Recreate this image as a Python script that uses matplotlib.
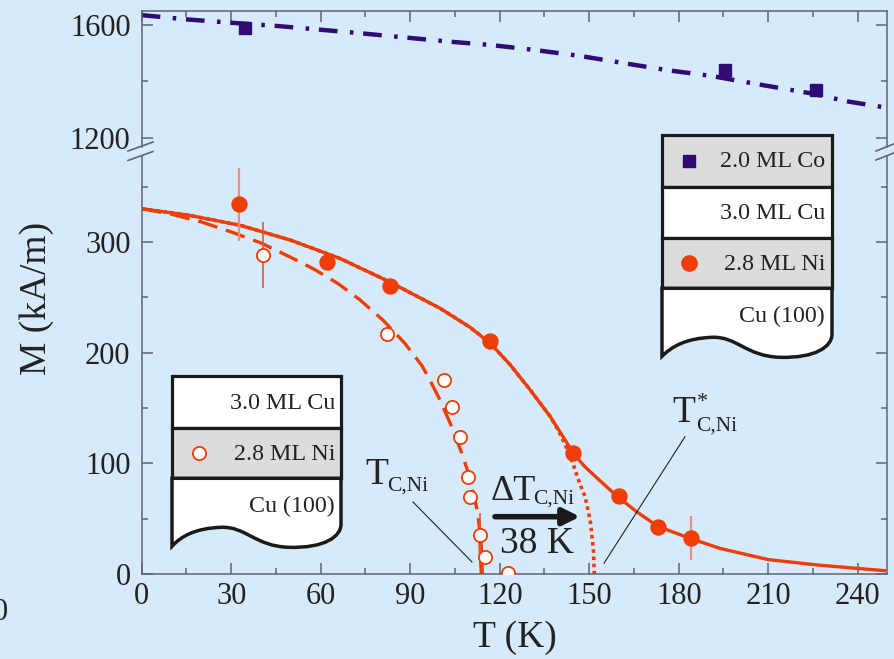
import matplotlib
matplotlib.use('Agg')
import matplotlib.pyplot as plt
from matplotlib.path import Path
from matplotlib.patches import PathPatch, Rectangle
from matplotlib.lines import Line2D
from matplotlib.ticker import MultipleLocator, FixedLocator

plt.rcParams['font.family'] = ['Liberation Serif', 'DejaVu Serif']

# ---------------- data ----------------
# 2.0 ML Co (upper panel)
T_co = [34.6, 195.6, 226.0]
M_co = [1589, 1440, 1369]
T_co_fit = [0, 15, 30, 46, 70, 103, 117, 132, 147, 162, 176, 191, 208, 224, 237, 250]
M_co_fit = [1635, 1620, 1608, 1596, 1574, 1541, 1529, 1511, 1490, 1464, 1440, 1419, 1387, 1358, 1328, 1306]

# 2.8 ML Ni in trilayer (filled circles)
T_tri = [32.6, 62.2, 83.2, 116.8, 144.7, 160.0, 172.9, 184.0]
M_tri = [334, 282, 260, 210.5, 109, 70.7, 42.7, 32.2]
E_tri = [33, 0, 0, 0, 0, 0, 0, 20]
T_tri_fit = [0, 16, 33, 50, 66.5, 83, 100, 110, 117, 123.5, 130, 137, 141, 144.7, 148.5, 152.5,
             159, 166, 173, 184, 194, 210, 227, 249]
M_tri_fit = [330, 324, 315, 301.5, 285, 264, 240, 223, 208, 189, 167, 142, 125, 109, 97, 87,
             71, 56, 43, 32, 23, 13, 8, 3]

# mean-field extrapolation (dotted)
T_mf = [0, 16, 33, 50, 66.5, 83, 100, 110, 117, 123.5, 130, 137, 140, 142, 144.7, 147, 148.6,
        150.3, 151.4, 151.7]
M_mf = [330, 324, 315, 301.5, 285, 264, 240, 223, 208, 189, 167, 142, 128, 116.5, 98.5, 80.4, 70,
        49, 22, 0]

# single 2.8 ML Ni film (open circles)
T_sf = [40.8, 82.1, 101.3, 103.9, 106.7, 109.5, 110.0, 113.4, 115.1, 122.9]
M_sf = [288, 216.5, 175, 150.6, 124, 87.3, 70, 35.2, 15, 0.6]
E_sf = [30, 0, 0, 0, 0, 0, 0, 20, 0, 0]
T_sf_fit = [0, 10, 20, 30, 40, 50, 58, 66, 73, 81, 88, 94, 97.2, 100, 103.9, 107.3, 109.4,
            111.2, 112.5, 113.4, 114]
M_sf_fit = [330, 325, 318, 309, 299, 286, 275, 262, 248, 229, 209, 188, 172, 157, 133, 109, 92,
            72, 57, 37, 0]

x_ticks = [0, 30, 60, 90, 120, 150, 180, 210, 240]
y_ticks_low = [0, 100, 200, 300]
y_ticks_up = [1200, 1600]

# ---------------- style ----------------
BG = '#d6eafc'
ORANGE = '#ee3d06'
ERR1 = '#f0907a'
ERR2 = '#e8582a'
PURPLE = '#2f0b73'
SPINE = '#5d6670'
INK = '#222222'
GRAY = '#dcdcdc'

W, H = 895, 659
fig = plt.figure(figsize=(W / 100, H / 100), dpi=100, facecolor=BG)


def fx(x):
    return x / W


def fy(y):
    return 1 - y / H


L, R, TOP, B, BRK_U, BRK_L = 141.7, 886.7, 11, 574, 146.5, 156
ax_u = fig.add_axes([fx(L), fy(BRK_U), (R - L) / W, (BRK_U - TOP) / H])
ax_l = fig.add_axes([fx(L), fy(B), (R - L) / W, (B - BRK_L) / H])

for ax in (ax_u, ax_l):
    ax.set_facecolor('none')
    ax.set_xlim(0, 249.7)
    for s in ax.spines.values():
        s.set_color(SPINE)
        s.set_linewidth(1.1)
    ax.tick_params(which='both', direction='in', colors=SPINE, labelcolor=INK,
                   labelsize=22, width=1.1, right=True, left=True)
    ax.tick_params(which='major', length=8)
    ax.tick_params(which='minor', length=4)
    ax.xaxis.set_major_locator(FixedLocator(x_ticks))
    ax.xaxis.set_minor_locator(MultipleLocator(15))

ax_u.set_ylim(1168.8, 1649.7)
ax_u.spines['bottom'].set_visible(False)
ax_u.tick_params(which='both', top=True, bottom=False, labelbottom=False)
ax_u.yaxis.set_major_locator(FixedLocator(y_ticks_up))
ax_u.yaxis.set_minor_locator(FixedLocator([1400]))
ax_u.tick_params(axis='y', pad=8)

ax_l.set_ylim(0, 377.6)
ax_l.spines['top'].set_visible(False)
ax_l.tick_params(which='both', top=False, bottom=True)
ax_l.yaxis.set_major_locator(FixedLocator(y_ticks_low))
ax_l.yaxis.set_minor_locator(MultipleLocator(50))
ax_l.tick_params(axis='y', pad=8)
ax_l.tick_params(axis='x', pad=6)

# upper panel
ax_u.plot(T_co_fit, M_co_fit, color=PURPLE, lw=3.2, ls=(0, (4.2, 2.8, 0.8, 2.2)), zorder=2)
ax_u.plot(T_co, M_co, 's', ms=9, color=PURPLE, zorder=3)

# lower panel
ax_l.plot(T_mf, M_mf, color=ORANGE, lw=2.6, ls=(0, (1, 1)), zorder=2)
ax_l.plot(T_sf_fit, M_sf_fit, color=ORANGE, lw=2.4, ls=(0, (6, 2.7)), zorder=2)
ax_l.plot(T_sf_fit[-2:], M_sf_fit[-2:], color=ORANGE, lw=3.2, zorder=2)
ax_l.plot(T_tri_fit, M_tri_fit, color=ORANGE, lw=2.4, zorder=2)
ax_l.errorbar(T_tri, M_tri, yerr=E_tri, fmt='none', ecolor=ERR1, elinewidth=1.6, capsize=0, zorder=3)
ax_l.errorbar(T_sf, M_sf, yerr=E_sf, fmt='none', ecolor=ERR2, elinewidth=1.2, capsize=0, zorder=3)
ax_l.plot(T_tri, M_tri, 'o', ms=10.8, color=ORANGE, zorder=4)
ax_l.plot(T_sf, M_sf, 'o', ms=9.5, mfc='white', mec=ORANGE, mew=1.3, zorder=4)

# axis labels
fig.text(fx(37), fy(298), 'M (kA/m)', rotation=90, ha='center', va='center', fontsize=27, color=INK)
fig.text(fx(515), fy(638), 'T (K)', ha='center', va='center', fontsize=27, color=INK)
fig.text(fx(8), fy(620), '0', ha='right', va='baseline', fontsize=22, color=INK)


def fline(p1, p2, **kw):
    fig.add_artist(Line2D([fx(p1[0]), fx(p2[0])], [fy(p1[1]), fy(p2[1])],
                          transform=fig.transFigure, **kw))


def ptext(x, y, s, fs, **kw):
    fig.text(fx(x), fy(y), s, fontsize=fs, color=INK, ha='left', va='baseline', **kw)


# axis break marks
for (a, b) in [((128, 151), (153, 142)), ((128, 160.5), (153, 151.5)),
               ((876, 151), (897, 142.7)), ((876, 160), (897, 151.7))]:
    fline(a, b, color=SPINE, lw=1.2)

# annotations
ptext(365, 483.5, 'T', 27)
ptext(387, 491, 'C,Ni', 15.5)
fline((413, 502), (472, 562), color=INK, lw=0.8)

ptext(491, 500.5, '\u0394T', 26)
ptext(533, 504, 'C,Ni', 15.5)
ptext(500, 553, '38 K', 27)
ax_l.annotate('', xy=(580, H - 516.7), xytext=(495, H - 516.7), xycoords='figure pixels',
              textcoords='figure pixels',
              arrowprops=dict(arrowstyle='-|>,head_length=1.0,head_width=0.5', lw=4,
                              color='#1a1a1a', shrinkA=0, shrinkB=0))

ptext(672, 422, 'T', 27)
ptext(697, 407, '*', 16)
ptext(696, 430.5, 'C,Ni', 15.5)
fline((685, 436.7), (604, 563.3), color=INK, lw=0.8)


# layer stacks
def to_fig(pts):
    return [(fx(x), fy(y)) for x, y in pts]


def stack(left, right, top, rows, bottom_text, text_right, box_fs=17.3):
    y = top
    for h, fc, txt, mk in rows:
        r = Rectangle((fx(left), fy(y + h)), (right - left) / W, h / H, transform=fig.transFigure,
                      facecolor=fc, edgecolor='#1a1a1a', lw=2.3, zorder=5)
        fig.add_artist(r)
        fig.text(fx(text_right), fy(y + h / 2 + 1), txt, ha='right', va='center', fontsize=box_fs,
                 color=INK, zorder=6)
        if mk is not None:
            fig.add_artist(Line2D([fx(left + 27)], [fy(y + h / 2)], transform=fig.transFigure,
                                  zorder=7, **mk))
        y += h
    rt = y
    verts = [(right, rt), (right, rt + 46),
             (right, rt + 58), (right - 16, rt + 70), (right - 52, rt + 69),
             (right - 86, rt + 68), (right - 95, rt + 48), (right - 120, rt + 49),
             (right - 146, rt + 50), (right - 160, rt + 58), (left, rt + 68),
             (left, rt), (right, rt)]
    codes = [Path.MOVETO, Path.LINETO,
             Path.CURVE4, Path.CURVE4, Path.CURVE4,
             Path.CURVE4, Path.CURVE4, Path.CURVE4,
             Path.CURVE4, Path.CURVE4, Path.CURVE4,
             Path.LINETO, Path.CLOSEPOLY]
    p = PathPatch(Path(to_fig(verts), codes), facecolor='white', edgecolor='#1a1a1a', lw=2.5,
                  transform=fig.transFigure, zorder=5)
    fig.add_artist(p)
    fig.text(fx(text_right), fy(rt + 28), bottom_text, ha='right', va='center', fontsize=box_fs,
             color=INK, zorder=6)


open_mk = dict(marker='o', ms=9.5, mfc='white', mec=ORANGE, mew=1.3)
fill_mk = dict(marker='o', ms=11, color=ORANGE)
sq_mk = dict(marker='s', ms=9, color=PURPLE)

stack(172, 341, 376,
      [(52.3, 'white', '3.0 ML Cu', None), (50, GRAY, '2.8 ML Ni', open_mk)],
      'Cu (100)', 335)
stack(662, 832, 135,
      [(51.7, GRAY, '2.0 ML Co', sq_mk), (51.6, 'white', '3.0 ML Cu', None),
       (50, GRAY, '2.8 ML Ni', fill_mk)],
      'Cu (100)', 825)

fig.savefig('out.png', dpi=100, facecolor=BG)
